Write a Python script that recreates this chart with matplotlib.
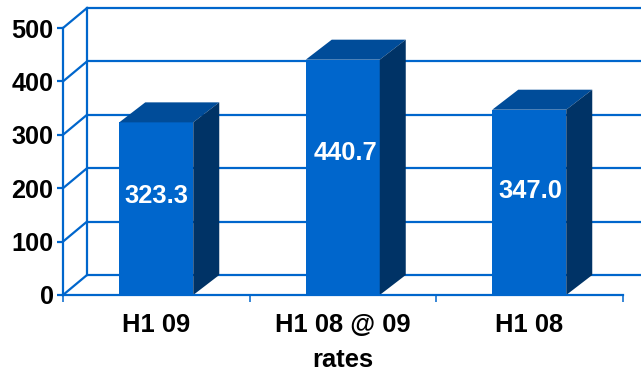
import matplotlib
matplotlib.use("Agg")
import matplotlib.pyplot as plt
from matplotlib.patches import Polygon

plt.rcParams['font.family'] = ['Liberation Sans', 'DejaVu Sans']

categories = ["H1 09", "H1 08 @ 09\nrates", "H1 08"]
values = [323.3, 440.7, 347.0]
value_labels = ["323.3", "440.7", "347.0"]
y_ticks = [0, 100, 200, 300, 400, 500]

W, H = 641, 370
LEFT, RIGHT, ZERO, TOP = 63, 622.5, 295, 28
PX_X = (RIGHT - LEFT) / 3
PX_Y = (ZERO - TOP) / 500

LINE = "#0066CC"
FRONT = "#0066CC"
ROOF = "#004C99"
SIDE = "#003366"

fig = plt.figure(figsize=(W / 100, H / 100), dpi=100, facecolor="white")
ax = fig.add_axes([LEFT / W, 1 - ZERO / H, (RIGHT - LEFT) / W, (ZERO - TOP) / H])
ax.set_xlim(0, 3)
ax.set_ylim(0, 500)
ax.patch.set_alpha(0)

# Depth of the back wall and of the bars, converted to data units
wall_dx, wall_dy = 24 / PX_X, 20 / PX_Y
bar_dx, bar_dy = 26 / PX_X, 20 / PX_Y
bar_w = 74 / PX_X
x_end = (W - LEFT) / PX_X
lw = 1.6

# Back wall and floor lines
for t in y_ticks:
    ax.plot([wall_dx, x_end], [t + wall_dy] * 2, color=LINE, lw=lw,
            clip_on=False, zorder=1, solid_capstyle="butt")
    ax.plot([0, wall_dx], [t, t + wall_dy], color=LINE, lw=lw,
            clip_on=False, zorder=1)
ax.plot([wall_dx, wall_dx], [wall_dy, 500 + wall_dy], color=LINE, lw=lw,
        clip_on=False, zorder=1)

# Bars: front face, then roof and side faces
xs = [i + 0.5 for i in range(len(values))]
ax.bar(xs, values, width=bar_w, color=FRONT, linewidth=0, zorder=3)
for x, v in zip(xs, values):
    l, r = x - bar_w / 2, x + bar_w / 2
    ax.add_patch(Polygon([(l, v), (r, v), (r + bar_dx, v + bar_dy), (l + bar_dx, v + bar_dy)],
                         closed=True, facecolor=ROOF, edgecolor="none", clip_on=False, zorder=3))
    ax.add_patch(Polygon([(r, 0), (r + bar_dx, bar_dy), (r + bar_dx, v + bar_dy), (r, v)],
                         closed=True, facecolor=SIDE, edgecolor="none", clip_on=False, zorder=3))

# Value labels inside the front faces
label_heights = [185, 265, 194]
label_shift = [0.003, 0.014, 0.008]
for x, h, dx, s in zip(xs, label_heights, label_shift, value_labels):
    ax.text(x + dx, h, s, color="white", fontsize=18.4, fontweight="bold",
            ha="center", va="center", zorder=5)

# Axes, ticks and tick labels
for side in ("top", "right"):
    ax.spines[side].set_visible(False)
for side in ("left", "bottom"):
    ax.spines[side].set_color(LINE)
    ax.spines[side].set_linewidth(lw)
    ax.spines[side].set_zorder(4)

ax.set_yticks(y_ticks)
ax.set_yticklabels([str(t) for t in y_ticks], fontsize=18.2, fontweight="bold", color="black")
ax.tick_params(axis="y", length=4.3, width=lw, color=LINE, pad=2.5)

ax.set_xticks([0, 1, 2, 3])
ax.set_xticklabels([])
ax.tick_params(axis="x", which="major", length=5, width=1.1, color=LINE)
ax.set_xticks(xs, minor=True)
ax.set_xticklabels(categories, minor=True, fontsize=18.4, fontweight="bold",
                   color="black", linespacing=1.55)
ax.tick_params(axis="x", which="minor", length=0, pad=13)

fig.savefig("out.png", dpi=100, facecolor="white")
